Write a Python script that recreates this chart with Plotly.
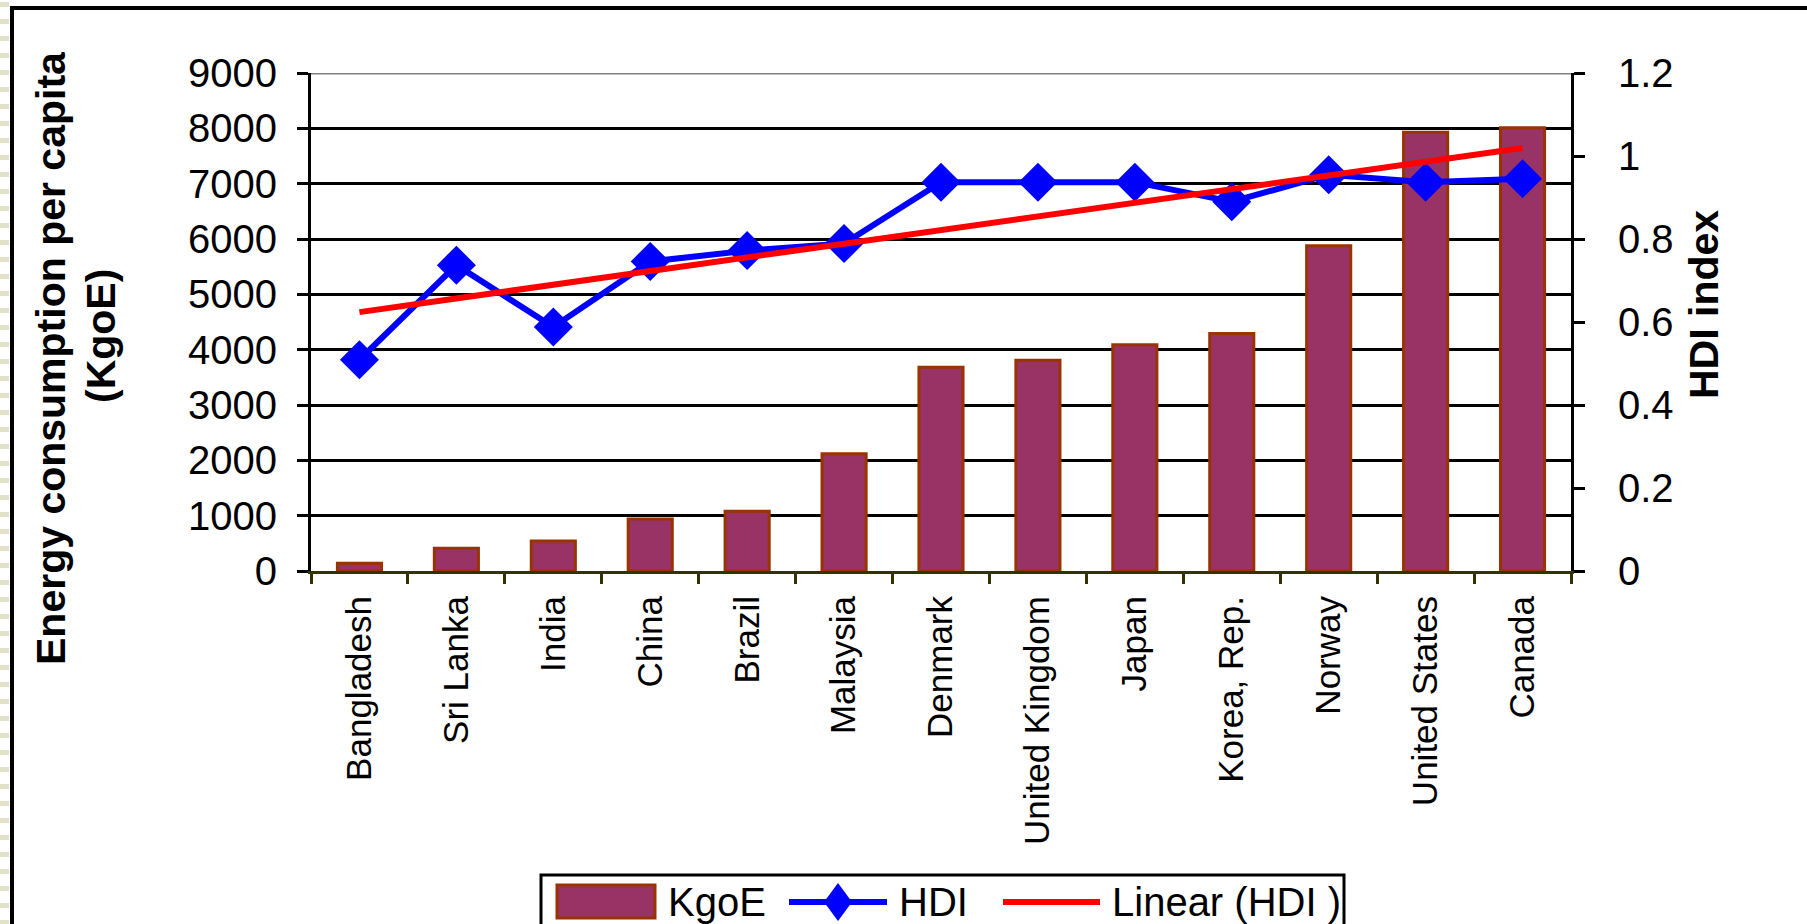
import numpy as np
import plotly.graph_objects as go

# ---- data -------------------------------------------------------------
COUNTRIES = ["Bangladesh", "Sri Lanka", "India", "China", "Brazil", "Malaysia",
             "Denmark", "United Kingdom", "Japan", "Korea, Rep.", "Norway",
             "United States", "Canada"]
KGOE = [140, 410, 540, 940, 1080, 2120, 3680, 3810, 4090, 4290, 5880, 7930, 8010]
HDI = [0.509, 0.737, 0.588, 0.746, 0.772, 0.789, 0.937, 0.937, 0.937, 0.890,
       0.955, 0.937, 0.945]

KGOE_TICKS = [0, 1000, 2000, 3000, 4000, 5000, 6000, 7000, 8000, 9000]
HDI_TICKS = [0, 0.2, 0.4, 0.6, 0.8, 1.0, 1.2]
HDI_TICK_TEXT = ["0", "0.2", "0.4", "0.6", "0.8", "1", "1.2"]

LEFT_TITLE_1 = "Energy consumption per capita"
LEFT_TITLE_2 = "(KgoE)"
RIGHT_TITLE = "HDI index"
LEGEND_NAMES = ["KgoE", "HDI", "Linear (HDI )"]

# ---- styling ----------------------------------------------------------
W, H = 1807, 924
PL, PR, PT, PB = 311, 1571, 73, 571          # plot area in page pixels
BAR_FILL, BAR_EDGE = "#993366", "#993300"
HDI_BLUE, TREND_RED = "#0000FF", "#FF0000"
FONT = "Arial, Liberation Sans, sans-serif"


def px(x):
    return (x - PL) / (PR - PL)


def py(y):
    return (PB - y) / (PB - PT)


# linear trend of HDI across category order
idx = np.arange(len(HDI))
slope, icpt = np.polyfit(idx, HDI, 1)
trend = slope * idx + icpt

fig = go.Figure()
fig.add_trace(go.Bar(
    x=COUNTRIES, y=KGOE, name=LEGEND_NAMES[0],
    marker=dict(color=BAR_FILL, line=dict(color=BAR_EDGE, width=3)),
    showlegend=False))
fig.add_trace(go.Scatter(
    x=COUNTRIES, y=HDI, name=LEGEND_NAMES[1], yaxis="y2", mode="lines+markers",
    line=dict(color=HDI_BLUE, width=6),
    marker=dict(symbol="diamond", size=30, color=HDI_BLUE),
    showlegend=False))
fig.add_trace(go.Scatter(
    x=COUNTRIES, y=trend, name=LEGEND_NAMES[2], yaxis="y2", mode="lines",
    line=dict(color=TREND_RED, width=6), showlegend=False))

shapes = []
# slide background stripes at the far left edge
for yy in range(2, H, 17):
    shapes.append(dict(type="rect", xref="paper", yref="paper",
                       x0=px(0), x1=px(9), y0=py(yy), y1=py(yy + 5),
                       fillcolor="#e2e2c9", line=dict(width=0), layer="below"))
# outer frame (left and top edges)
shapes.append(dict(type="line", xref="paper", yref="paper",
                   x0=px(12), x1=px(12), y0=py(6), y1=py(H + 10),
                   line=dict(color="black", width=4)))
shapes.append(dict(type="line", xref="paper", yref="paper",
                   x0=px(10), x1=px(W + 10), y0=py(8), y1=py(8),
                   line=dict(color="black", width=4)))
# grey top edge of the plot area
shapes.append(dict(type="line", xref="paper", yref="y",
                   x0=0, x1=1, y0=KGOE_TICKS[-1], y1=KGOE_TICKS[-1],
                   line=dict(color="#808080", width=3)))

# legend key
LEG_Y = 902
shapes.append(dict(type="rect", xref="paper", yref="paper",
                   x0=px(541), x1=px(1344), y0=py(875), y1=py(H + 20),
                   line=dict(color="black", width=3), fillcolor="white"))
shapes.append(dict(type="rect", xref="paper", yref="paper",
                   x0=px(557), x1=px(655), y0=py(885), y1=py(918),
                   line=dict(color=BAR_EDGE, width=3), fillcolor=BAR_FILL))
shapes.append(dict(type="line", xref="paper", yref="paper",
                   x0=px(789), x1=px(887), y0=py(LEG_Y), y1=py(LEG_Y),
                   line=dict(color=HDI_BLUE, width=6)))
dx, dy, cx = 14, 19, 838
shapes.append(dict(type="path", xref="paper", yref="paper",
                   path=(f"M {px(cx - dx)},{py(LEG_Y)} L {px(cx)},{py(LEG_Y - dy)} "
                         f"L {px(cx + dx)},{py(LEG_Y)} L {px(cx)},{py(LEG_Y + dy)} Z"),
                   fillcolor=HDI_BLUE, line=dict(width=0)))
shapes.append(dict(type="line", xref="paper", yref="paper",
                   x0=px(1003), x1=px(1100), y0=py(LEG_Y), y1=py(LEG_Y),
                   line=dict(color=TREND_RED, width=6)))

annotations = [
    dict(text=f"<b>{LEFT_TITLE_1}</b>", xref="paper", yref="paper",
         x=px(51), y=py(358), xanchor="center", yanchor="middle",
         textangle=-90, showarrow=False,
         font=dict(family=FONT, size=41, color="black")),
    dict(text=f"<b>{LEFT_TITLE_2}</b>", xref="paper", yref="paper",
         x=px(101), y=py(336), xanchor="center", yanchor="middle",
         textangle=-90, showarrow=False,
         font=dict(family=FONT, size=41, color="black")),
    dict(text=f"<b>{RIGHT_TITLE}</b>", xref="paper", yref="paper",
         x=px(1704), y=py(305), xanchor="center", yanchor="middle",
         textangle=-90, showarrow=False,
         font=dict(family=FONT, size=41, color="black")),
]
for name, lx in zip(LEGEND_NAMES, [666, 897, 1110]):
    annotations.append(dict(text=name, xref="paper", yref="paper",
                            x=px(lx), y=py(LEG_Y), xanchor="left", yanchor="middle",
                            showarrow=False,
                            font=dict(family=FONT, size=40, color="black")))

fig.update_layout(
    width=W, height=H,
    template="none",
    paper_bgcolor="white", plot_bgcolor="white",
    margin=dict(l=PL, r=W - PR, t=PT, b=H - PB, pad=0, autoexpand=False),
    bargap=0.545,
    showlegend=False,
    font=dict(family=FONT, color="black"),
    shapes=shapes,
    annotations=annotations,
    xaxis=dict(
        type="category", range=[-0.5, len(COUNTRIES) - 0.5],
        tickangle=-90, tickfont=dict(family=FONT, size=35, color="black"),
        showline=True, linecolor="#333300", linewidth=3,
        ticks="outside", tickson="boundaries", ticklen=10, tickwidth=3,
        tickcolor="#333300", showgrid=False, zeroline=False,
        ticklabelstandoff=8, automargin=False),
    yaxis=dict(
        range=[0, KGOE_TICKS[-1]], tickvals=KGOE_TICKS,
        tickfont=dict(family=FONT, size=40, color="black"),
        showline=True, linecolor="black", linewidth=3,
        ticks="outside", ticklen=11, tickwidth=3, tickcolor="black",
        showgrid=True, gridcolor="black", gridwidth=2.5, zeroline=False,
        ticklabelstandoff=12, automargin=False),
    yaxis2=dict(
        overlaying="y", side="right", range=[0, HDI_TICKS[-1]],
        tickvals=HDI_TICKS, ticktext=HDI_TICK_TEXT,
        tickfont=dict(family=FONT, size=40, color="black"),
        showline=True, linecolor="black", linewidth=3,
        ticks="outside", ticklen=11, tickwidth=3, tickcolor="black",
        showgrid=False, zeroline=False, ticklabelstandoff=25,
        automargin=False),
)

fig.write_html("out.html")
